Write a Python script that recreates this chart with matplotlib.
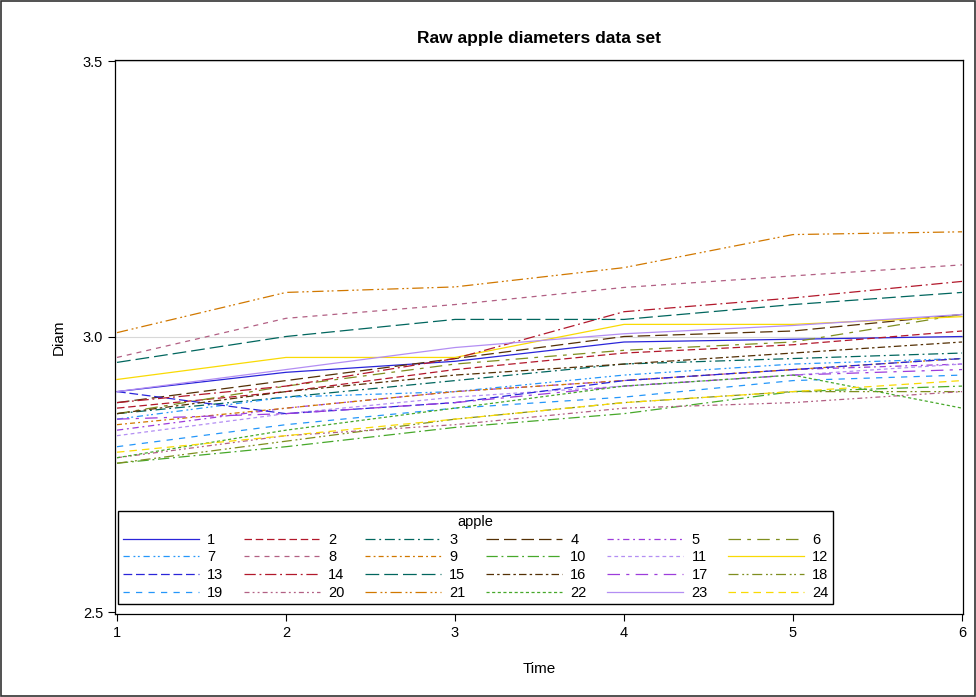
import matplotlib
matplotlib.use("Agg")
import matplotlib.pyplot as plt
from matplotlib.patches import Rectangle

plt.rcParams['font.family'] = ['Liberation Sans', 'DejaVu Sans']

time = [1, 2, 3, 4, 5, 6]
apples = [str(i) for i in range(1, 25)]

# diameters per apple, one value per time point
d1 = [2.90, 2.935, 2.955, 2.99, 2.995, 3.00]
d2 = [2.87, 2.90, 2.94, 2.97, 2.985, 3.01]
d3 = [2.86, 2.89, 2.92, 2.95, 2.96, 2.97]
d4 = [2.88, 2.92, 2.96, 3.00, 3.01, 3.04]
d5 = [2.83, 2.87, 2.90, 2.92, 2.94, 2.95]
d6 = [2.86, 2.91, 2.95, 2.975, 2.99, 3.04]
d7 = [2.85, 2.89, 2.90, 2.93, 2.95, 2.96]
d8 = [2.962, 3.033, 3.058, 3.089, 3.11, 3.13]
d9 = [2.84, 2.87, 2.90, 2.92, 2.94, 2.96]
d10 = [2.77, 2.80, 2.835, 2.86, 2.90, 2.91]
d11 = [2.82, 2.86, 2.89, 2.91, 2.93, 2.95]
d12 = [2.922, 2.962, 2.962, 3.022, 3.022, 3.036]
d13 = [2.90, 2.86, 2.88, 2.92, 2.94, 2.96]
d14 = [2.88, 2.91, 2.96, 3.045, 3.07, 3.10]
d15 = [2.953, 3.00, 3.031, 3.031, 3.058, 3.08]
d16 = [2.86, 2.90, 2.93, 2.95, 2.97, 2.99]
d17 = [2.85, 2.86, 2.88, 2.91, 2.93, 2.94]
d18 = [2.77, 2.81, 2.85, 2.88, 2.90, 2.90]
d19 = [2.80, 2.84, 2.87, 2.89, 2.92, 2.93]
d20 = [2.78, 2.82, 2.84, 2.87, 2.88, 2.90]
d21 = [3.007, 3.08, 3.09, 3.125, 3.185, 3.19]
d22 = [2.78, 2.83, 2.87, 2.91, 2.93, 2.87]
d23 = [2.90, 2.94, 2.98, 3.005, 3.02, 3.04]
d24 = [2.79, 2.82, 2.85, 2.88, 2.90, 2.92]
diam = [d1, d2, d3, d4, d5, d6, d7, d8, d9, d10, d11, d12,
        d13, d14, d15, d16, d17, d18, d19, d20, d21, d22, d23, d24]

colors = ['#2A25D9', '#B2182B', '#01665E', '#543005', '#9D3CDB', '#7F8E1F',
          '#2597FA', '#B26084', '#D17800', '#47A82A', '#B38EF3', '#F9DA04']
dashes = [
    (None),
    (6, 3),
    (8, 3, 1.5, 3),
    (10, 4),
    (5, 3, 1.5, 3),
    (10, 5, 3, 5),
    (5, 3, 1.5, 2, 1.5, 3),
    (4, 4),
    (4, 2.5, 1.5, 2.5),
    (9, 3, 1.5, 3),
    (3, 2.5),
    (None),
    (7, 3),
    (9, 3, 1.5, 3),
    (11, 4),
    (6, 2.5, 2, 2.5),
    (10, 5, 2.5, 5),
    (8, 3, 1.5, 2, 1.5, 3),
    (5, 5),
    (4, 2.5, 1.5, 2.5, 1.5, 2.5),
    (9, 3, 1.5, 2, 1.5, 3),
    (2.5, 2),
    (None),
    (6, 4),
]

fig = plt.figure(figsize=(9.76, 6.97), dpi=100)
ax = fig.add_axes([0.1178, 0.1191, 0.8689, 0.7948])

handles = []
for i, (name, vals) in enumerate(zip(apples, diam)):
    line, = ax.plot(time, vals, color=colors[i % 12], lw=0.9, label=name)
    if dashes[i] is not None:
        line.set_dashes(dashes[i])
    handles.append(line)

for yref in (3.0, 3.5):
    ax.axhline(yref, color='#d8d8d8', lw=0.8, zorder=0)

ax.set_xlim(0.988, 6.006)
ax.set_ylim(2.4964, 3.5018)
ax.set_xticks(time)
ax.set_yticks([2.5, 3.0, 3.5])
ax.set_yticklabels(['2.5', '3.0', '3.5'])
ax.tick_params(direction='out', length=5, width=0.8, labelsize=10.5)
for s in ax.spines.values():
    s.set_linewidth(0.9)

ax.set_title('Raw apple diameters data set', fontsize=12.5, fontweight='bold', pad=12)
ax.set_xlabel('Time', fontsize=11, labelpad=16)
ax.set_ylabel('Diam', fontsize=11, labelpad=12)

# legend fills column by column, so reorder to read 1..6 across each row
ncol, nrow = 6, 4
order = [r * ncol + c for c in range(ncol) for r in range(nrow)]
leg = ax.legend([handles[k] for k in order], [apples[k] for k in order],
                title='apple', ncol=ncol, loc='lower left', bbox_to_anchor=(0.004, 0.018),
                borderaxespad=0, fontsize=10.5, title_fontsize=10.5, handlelength=5.2,
                columnspacing=1.38, handletextpad=0.6, labelspacing=0.25,
                fancybox=False, edgecolor='black', framealpha=1, borderpad=0.3)
leg.get_frame().set_linewidth(1.0)

fig.patches.append(Rectangle((0.001, 0.001), 0.998, 0.998, transform=fig.transFigure,
                             fill=False, edgecolor='#333333', lw=1.2))

fig.savefig('out.png', dpi=100)
